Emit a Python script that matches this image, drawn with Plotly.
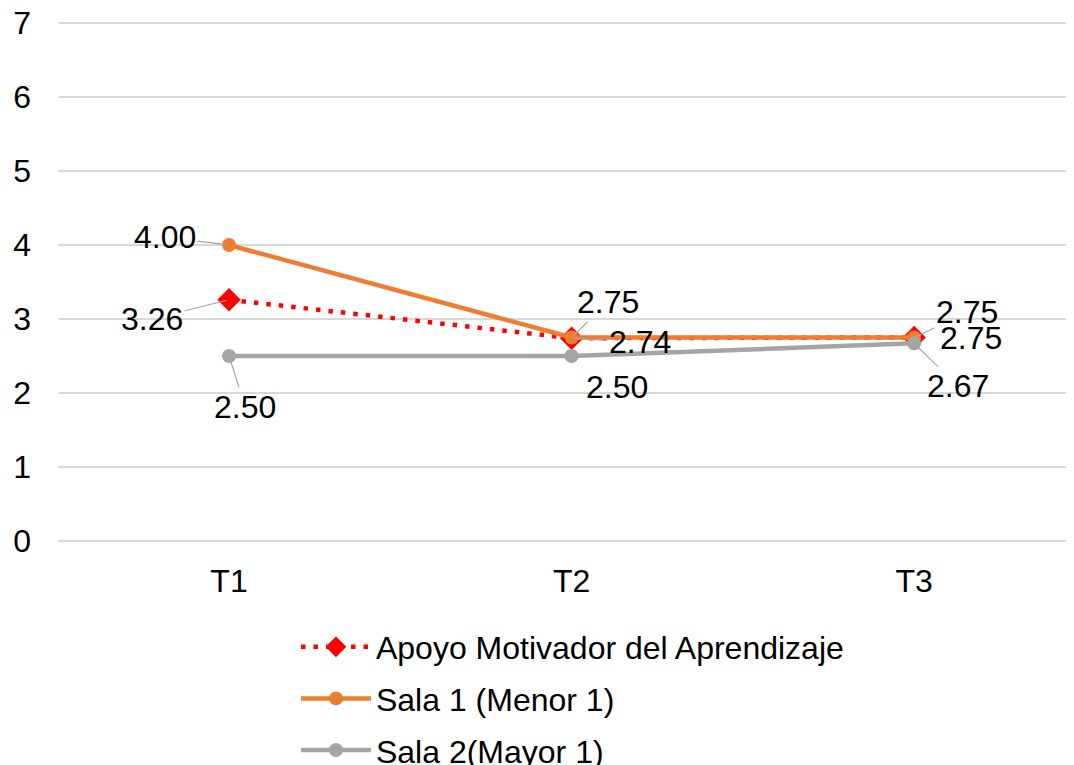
import plotly.graph_objects as go

categories = ["T1", "T2", "T3"]
apoyo = [3.26, 2.74, 2.75]
sala1 = [4.00, 2.75, 2.75]
sala2 = [2.50, 2.50, 2.67]
y_ticks = [0, 1, 2, 3, 4, 5, 6, 7]

names = ["Apoyo Motivador del Aprendizaje", "Sala 1 (Menor 1)", "Sala 2(Mayor 1)"]

FONT = "Arial, Liberation Sans, sans-serif"
ORANGE = "#ED7D31"
GRAY = "#A5A5A5"
RED = "#FF0000"

fig = go.Figure()
fig.add_trace(go.Scatter(
    x=categories, y=apoyo, name=names[0], mode="lines+markers",
    line=dict(color=RED, width=4.5, dash="4.5px,8px"),
    marker=dict(symbol="diamond", size=18, color=RED),
    legendgroup="a",
))
fig.add_trace(go.Scatter(
    x=categories, y=sala1, name=names[1], mode="lines+markers",
    line=dict(color=ORANGE, width=4.5),
    marker=dict(symbol="circle", size=14, color=ORANGE),
    legendgroup="b",
))
fig.add_trace(go.Scatter(
    x=categories, y=sala2, name=names[2], mode="lines+markers",
    line=dict(color=GRAY, width=4.5),
    marker=dict(symbol="circle", size=14, color=GRAY),
    legendgroup="c",
))

# label offsets (pixels) and whether a leader line is drawn
series = [apoyo, sala1, sala2]
offsets = [
    [(-77, 19, True), (68, 4, True), (53, -25, True)],
    [(-64, -8, True), (36, -35, True), (57, 1, False)],
    [(16, 51, True), (45, 31, False), (44, 43, True)],
]
for s, offs in zip(series, offsets):
    for cat, val, (ax, ay, lead) in zip(categories, s, offs):
        fig.add_annotation(
            x=cat, y=val, text=f"{val:.2f}",
            showarrow=True, ax=ax, ay=ay, arrowhead=0, arrowwidth=1.2,
            arrowcolor="#A6A6A6" if lead else "rgba(0,0,0,0)",
            standoff=3,
            font=dict(family=FONT, size=32, color="black"),
        )

fig.update_layout(
    width=1074, height=800,
    paper_bgcolor="white", plot_bgcolor="white",
    margin=dict(l=50, r=0, t=12.8, b=264.8, autoexpand=False),
    font=dict(family=FONT, size=32, color="black"),
    showlegend=True,
    legend=dict(
        orientation="v", x=0.2324, xanchor="left", y=-0.1466, yanchor="top",
        font=dict(family=FONT, size=32, color="black"),
        itemwidth=70, tracegroupgap=7, bgcolor="rgba(0,0,0,0)",
    ),
    xaxis=dict(
        range=[-0.4993, 2.49], showgrid=False, zeroline=False, showline=False,
        ticks="", ticklabelstandoff=16,
        tickfont=dict(family=FONT, size=32, color="black"),
    ),
    yaxis=dict(
        range=[-0.03, 7.03], tickvals=y_ticks, showgrid=True, gridcolor="#D9D9D9",
        gridwidth=1.5, zeroline=True, zerolinecolor="#D9D9D9", zerolinewidth=1.5,
        showline=False, ticks="", ticklabelstandoff=26, ticklabeloverflow="allow",
        tickfont=dict(family=FONT, size=32, color="black"),
    ),
)

fig.write_html("out.html")
